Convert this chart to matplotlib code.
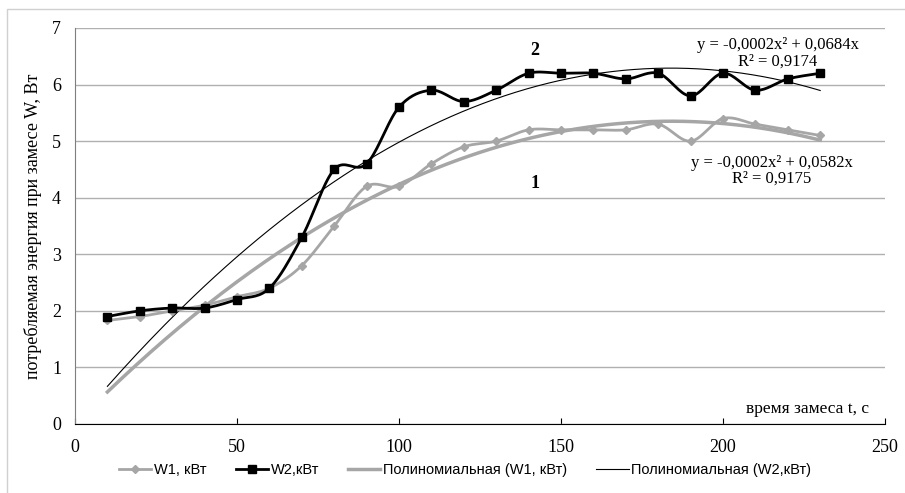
import numpy as np
import matplotlib.pyplot as plt
from matplotlib.patches import Rectangle

t = [10, 20, 30, 40, 50, 60, 70, 80, 90, 100, 110, 120,
     130, 140, 150, 160, 170, 180, 190, 200, 210, 220, 230]
w1 = [1.83, 1.9, 2.0, 2.1, 2.25, 2.4, 2.8, 3.5, 4.2, 4.2, 4.6, 4.9,
      5.0, 5.2, 5.2, 5.2, 5.2, 5.3, 5.0, 5.4, 5.3, 5.2, 5.1]
w2 = [1.9, 2.0, 2.05, 2.05, 2.2, 2.4, 3.3, 4.5, 4.6, 5.6, 5.9, 5.7,
      5.9, 6.2, 6.2, 6.2, 6.1, 6.2, 5.8, 6.2, 5.9, 6.1, 6.2]

eq1 = ["y = -0,0002x² + 0,0582x", "R² = 0,9175"]
eq2 = ["y = -0,0002x² + 0,0684x", "R² = 0,9174"]


def smooth(x, y, n=20):
    # excel-like bezier smoothing between the points
    p = np.column_stack([x, y]).astype(float)
    p = np.vstack([p[0], p, p[-1]])
    out = []
    s = np.linspace(0, 1, n)[:, None]
    for i in range(1, len(p) - 2):
        a, b = p[i], p[i + 1]
        c1 = a + (p[i + 1] - p[i - 1]) / 6
        c2 = b - (p[i + 2] - p[i]) / 6
        seg = (1 - s) ** 3 * a + 3 * (1 - s) ** 2 * s * c1 + 3 * (1 - s) * s ** 2 * c2 + s ** 3 * b
        out.append(seg)
    out = np.vstack(out)
    return out[:, 0], out[:, 1]


def trend(x, y):
    # 2nd order polynomial, intercept fixed at zero
    x = np.asarray(x, float)
    A = np.column_stack([x ** 2, x])
    coef, *_ = np.linalg.lstsq(A, np.asarray(y, float), rcond=None)
    xs = np.linspace(x[0], x[-1], 200)
    return xs, coef[0] * xs ** 2 + coef[1] * xs


fig = plt.figure(figsize=(9.05, 4.93), dpi=100)
ax = fig.add_axes([75 / 905, 1 - 424 / 493, 810 / 905, 396 / 493])

grey = "#a6a6a6"
serif = "Liberation Serif"

sx, sy = smooth(t, w1)
ax.plot(sx, sy, color=grey, lw=2, zorder=3)
ax.plot(t, w1, ls="none", marker="D", ms=4.5, color=grey, zorder=4)
sx, sy = smooth(t, w2)
ax.plot(sx, sy, color="black", lw=2, zorder=5)
ax.plot(t, w2, ls="none", marker="s", ms=6, color="black", zorder=6)

tx, ty = trend(t, w1)
ax.plot(tx, ty, color=grey, lw=2.5, zorder=2)
tx, ty = trend(t, w2)
ax.plot(tx, ty, color="black", lw=0.8, zorder=2)

# legend handles
h1, = ax.plot([], [], color=grey, lw=2, marker="D", ms=4.5, label="W1, кВт")
h2, = ax.plot([], [], color="black", lw=2, marker="s", ms=6, label="W2,кВт")
h3, = ax.plot([], [], color=grey, lw=2.5, label="Полиномиальная (W1, кВт)")
h4, = ax.plot([], [], color="black", lw=0.8, label="Полиномиальная (W2,кВт)")

ax.set_xlim(0, 250)
ax.set_ylim(0, 7)
ax.set_xticks(range(0, 251, 50))
ax.set_yticks(range(0, 8))
ax.grid(axis="y", color="#b0b0b0", lw=1)
ax.set_axisbelow(True)
for s in ["top", "right"]:
    ax.spines[s].set_visible(False)
ax.spines["left"].set_color("#7f7f7f")
ax.spines["bottom"].set_color("black")
ax.tick_params(axis="y", length=0, pad=10, labelsize=13)
ax.tick_params(axis="x", direction="in", length=4, pad=11, labelsize=13)
for lab in ax.get_xticklabels() + ax.get_yticklabels():
    lab.set_fontfamily(serif)

ax.set_ylabel("потребляемая энергия при замесе W, Вт", fontsize=13,
              fontfamily=serif, labelpad=7)
ax.text(245, 0.12, "время замеса t, с", fontsize=12.5, fontfamily=serif,
        ha="right", va="bottom")

ax.text(142, 6.6, "2", fontsize=13, fontweight="bold", fontfamily=serif,
        ha="center", va="center")
ax.text(142, 4.26, "1", fontsize=13, fontweight="bold", fontfamily=serif,
        ha="center", va="center")
ax.text(217, 6.55, "\n".join(eq2), fontsize=12, fontfamily=serif,
        ha="center", va="center", linespacing=1.0)
ax.text(215, 4.47, "\n".join(eq1), fontsize=12, fontfamily=serif,
        ha="center", va="center", linespacing=1.0)

fig.legend(handles=[h1, h2, h3, h4], loc="center", bbox_to_anchor=(0.514, 0.047),
           ncol=4, frameon=False, prop={"family": "Liberation Sans", "size": 10.5},
           handlelength=2.2, columnspacing=2.0, handletextpad=0.2)

fig.patches.append(Rectangle((7 / 905, -0.1), 1.1, 1 - 9 / 493 + 0.1,
                             transform=fig.transFigure, fill=False,
                             edgecolor="#d0d0d0", lw=1))

fig.savefig("out.png", dpi=100)
